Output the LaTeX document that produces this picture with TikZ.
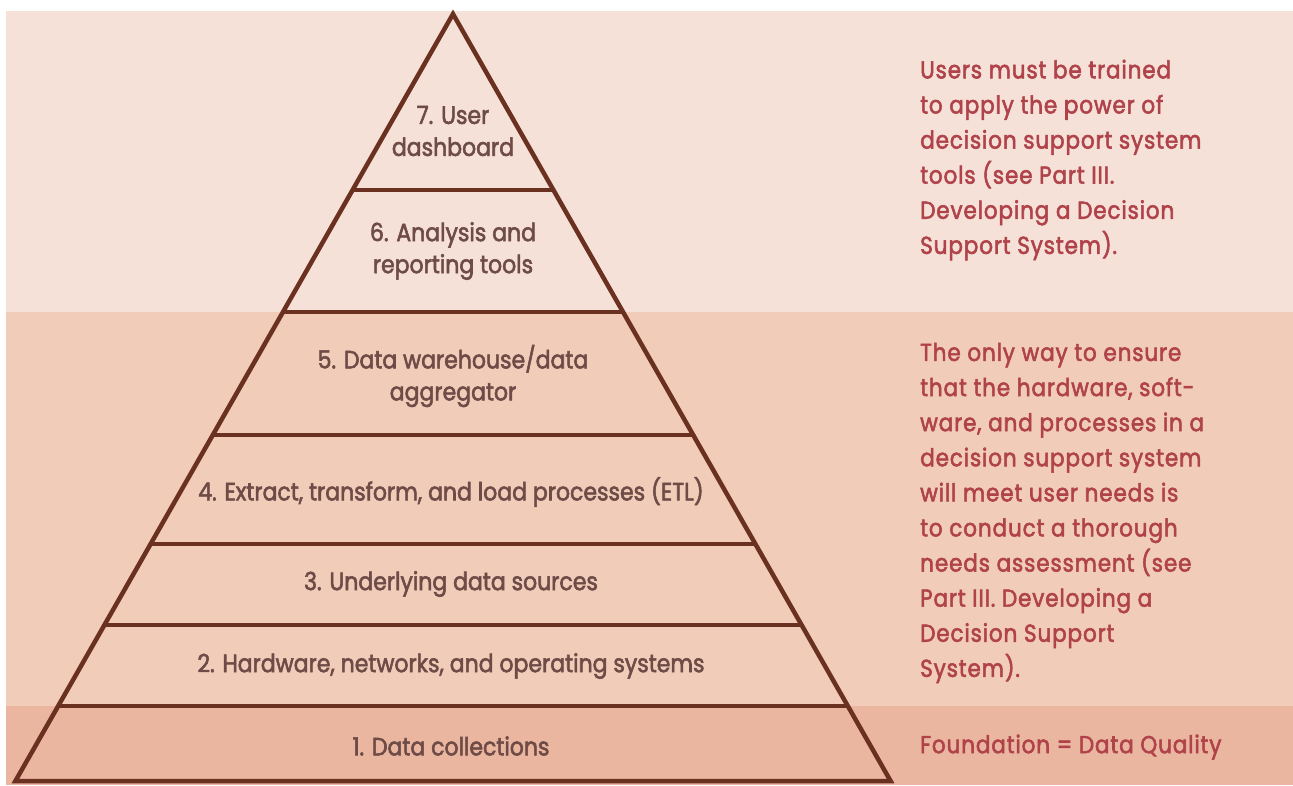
\documentclass[tikz,border=0pt]{standalone}
\usepackage{fontspec}
\setmainfont{Poppins}[FakeStretch=0.88, FakeBold=2.2]
\newfontfamily\notefont{Poppins}[FakeStretch=0.88, FakeBold=2.2, LetterSpace=3.5]
\usetikzlibrary{calc}
\definecolor{bandtop}{HTML}{F5E1D7}
\definecolor{bandmid}{HTML}{F0CCB9}
\definecolor{bandbot}{HTML}{EAB6A0}
\definecolor{edge}{HTML}{6A3020}
\definecolor{ptext}{HTML}{6E4B47}
\definecolor{rtext}{HTML}{B0424A}
\tikzset{
  layer/.style={text=ptext, align=center, font=\fontsize{25}{32}\selectfont},
  note/.style={text=rtext, align=left, anchor=west, font=\notefont\fontsize{24.5}{35.1}\selectfont, inner sep=0pt},
  outline/.style={draw=edge, line width=4.5pt, line join=miter},
  divider/.style={draw=edge, line width=4.5pt}
}
\begin{document}
\begin{tikzpicture}[x=1pt,y=-1pt]
\useasboundingbox (0,0) rectangle (1293,785);
\fill[white] (0,0) rectangle (1293,785);
\fill[bandtop] (6,11) rectangle (1293,312);
\fill[bandmid] (6,312) rectangle (1293,706);
\fill[bandbot] (6,706) rectangle (1293,785);
\coordinate (apex) at (453,14);
\coordinate (bl) at (15.4,781);
\coordinate (br) at (890.6,781);
\draw[outline] (apex) -- (bl) -- (br) -- cycle;
\foreach \yy/\nm in {190/a,312/b,435/c,544/d,625/e,706/f}{
  \coordinate (l\nm) at ($(apex)!{(\yy-14)/767}!(bl)$);
  \coordinate (r\nm) at ($(apex)!{(\yy-14)/767}!(br)$);
  \draw[divider] (l\nm) -- (r\nm);
}
\node[layer] (t7) at (453,131) {7. User\\dashboard};
\node[layer] (t6) at (453,251) {6. Analysis and\\reporting tools};
\node[layer] (t5) at (453,376) {5. Data warehouse/data\\aggregator};
\node[layer] (t4) at (451,492) {4. Extract, transform, and load processes (ETL)};
\node[layer] (t3) at (451,584) {3. Underlying data sources};
\node[layer] (t2) at (451,666) {2. Hardware, networks, and operating systems};
\node[layer] (t1) at (451,746) {1. Data collections};
\node[note] (n1) at (920,160) {Users must be trained\\to apply the power of\\decision support system\\tools (see Part III.\\Developing a Decision\\Support System).};
\node[note] (n2) at (920,513) {The only way to ensure\\that the hardware, soft-\\ware, and processes in a\\decision support system\\will meet user needs is\\to conduct a thorough\\needs assessment (see\\Part III. Developing a\\Decision Support\\System).};
\node[note] (n3) at (920,747) {Foundation = Data Quality};
\end{tikzpicture}
\end{document}
